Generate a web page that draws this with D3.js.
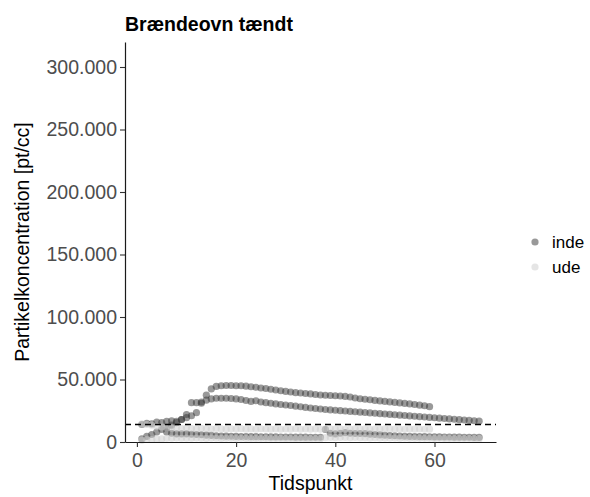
<!DOCTYPE html>
<html>
<head>
<meta charset="utf-8">
<script src="https://cdn.jsdelivr.net/npm/d3@7"></script>
<style>
  body { margin: 0; background: #fff; }
  svg { display: block; font-family: "Liberation Sans", Arial, sans-serif; }
</style>
</head>
<body>
<svg id="chart" width="590" height="497"></svg>
<script>
// ---- data ----
const title = "Brændeovn tændt";
const xTitle = "Tidspunkt";
const yTitle = "Partikelkoncentration [pt/cc]";
const groups = ["inde", "ude"];
const xTicks = [0, 20, 40, 60];
const yTicks = [0, 50000, 100000, 150000, 200000, 250000, 300000];
const refLine = 14000;

// inde, measurement 1 (t = 1..59)
const inde1 = [14000, 15000, 14500, 16000, 15500, 16500, 17000, 16500, 18000, 19500,
  21000, 23500, 31000, 37500, 42500, 44500, 45000, 45200, 45200, 45000,
  45000, 44700, 44200, 43800, 43200, 42800, 42200, 41600, 41000, 40500,
  40000, 39500, 39200, 38800, 38500, 38000, 37600, 37400, 37200, 37000,
  36800, 36500, 36000, 35200, 34600, 34200, 33800, 33300, 32900, 32500,
  32100, 31700, 31300, 30900, 30500, 30000, 29500, 29000, 28300];
// inde, measurement 2 (t = 1..69)
const inde2 = [2500, 4500, 6000, 8000, 10000, 11500, 13500, 15500, 18000, 22000,
  31500, 31500, 32000, 33500, 34500, 35000, 35000, 35000, 34800, 34500,
  34000, 33200, 32500, 33000, 32000, 31500, 31000, 30500, 30000, 29600,
  29200, 28700, 28200, 27700, 27200, 26800, 26400, 26000, 25700, 25400,
  25100, 24800, 24500, 24200, 23900, 23600, 23300, 23000, 22700, 22400,
  22100, 21800, 21500, 21200, 20900, 20600, 20300, 20000, 19700, 19400,
  19100, 18800, 18500, 18200, 17900, 17600, 17300, 17000, 16700];
// inde, measurement 3 (t = 1..69)
const inde3 = [null, null, null, null, null, 8000, 7000, 6500, 6500, 6500,
  6200, 6000, 5800, 5500, 5300, 5000, 4800, 4700, 4600, 4500,
  4400, 4400, 4300, 4300, 4200, 4200, 4100, 4100, 4000, 4000,
  4000, 3900, 3900, 3900, 3800, 3800, 3800, 10000, 7000, 6500,
  7000, 7500, 7000, 6800, 6800, 6700, 6300, 6000, 5700, 5400,
  5200, 5000, 4800, 4600, 4500, 4400, 4300, 4300, 4200, 4100,
  4100, 4000, 4000, 3900, 3900, 3800, 3800, 3700, 3700];
// ude, measurement 1 (t = 1..59)
const ude1 = [14500, 14000, 13500, 12500, 12000, 11500, 11000, 11000, 10800, 11200,
  10800, 10500, 11000, 10600, 10400, 10800, 10500, 10300, 10600, 10400,
  10700, 10300, 10500, 10200, 10600, 10400, 10300, 10500, 10200, 10400,
  10300, 10600, 10200, 10400, 10300, 10500, 10200, 10400, 10600, 10300,
  10500, 10200, 10400, 10600, 10300, 10500, 10200, 10400, 10300, 10500,
  10600, 10300, 10400, 10200, 10500, 10300, 10400, 10200, 10300];
// ude, measurement 2 (t = 1..69)
const ude2 = [1500, 2000, 2000, 2500, 2500, 3000, 3000, 3200, 3000, 3100,
  3000, 3200, 3000, 2900, 3100, 3000, 2900, 3000, 3100, 2900,
  3000, 2900, 2800, 2900, 2800, 2900, 2800, 2800, 2900, 2700,
  2800, 2700, 2800, 2700, 2700, 2800, 2700, 3500, 3600, 3500,
  3700, 3600, 3500, 3600, 3400, 3500, 3300, 3400, 3300, 3200,
  3300, 3200, 3100, 3200, 3100, 3000, 3100, 3000, 3000, 2900,
  3000, 2900, 2900, 2800, 2900, 2800, 2800, 2700, 2700];

const seriesList = [
  {group: "inde", values: inde1},
  {group: "inde", values: inde2},
  {group: "inde", values: inde3},
  {group: "ude", values: ude1},
  {group: "ude", values: ude2}
];

// ---- styles ----
const fillColor = {inde: "#333333", ude: "#cccccc"};
const pointAlpha = 0.5;
const r = 3.6;

const svg = d3.select("#chart");
const pLeft = 125, pRight = 496, pTop = 42, pBottom = 442;

const x = d3.scaleLinear().domain([-2.4, 72.4]).range([pLeft, pRight]);
const y = d3.scaleLinear().domain([0, 320000]).range([pBottom, pTop]);

const locale = d3.formatLocale({decimal: ",", thousands: ".", grouping: [3], currency: ["", ""]});
const fmt = locale.format(",");

// points
const pts = [];
seriesList.forEach(s => s.values.forEach((v, i) => {
  if (v !== null) pts.push({t: i + 1, v: v, g: s.group});
}));

svg.append("g").selectAll("circle").data(pts).join("circle")
  .attr("cx", d => x(d.t))
  .attr("cy", d => y(d.v))
  .attr("r", r)
  .attr("fill", d => fillColor[d.g])
  .attr("fill-opacity", pointAlpha);

// reference dashed line
svg.append("line")
  .attr("x1", pLeft).attr("x2", pRight)
  .attr("y1", y(refLine)).attr("y2", y(refLine))
  .attr("stroke", "#000").attr("stroke-width", 1.3)
  .attr("stroke-dasharray", "6,4");

// axes
const yAxis = svg.append("g").attr("transform", `translate(${pLeft},0)`)
  .call(d3.axisLeft(y).tickValues(yTicks).tickFormat(fmt).tickSize(5).tickSizeOuter(0).tickPadding(3));
const xAxis = svg.append("g").attr("transform", `translate(0,${pBottom})`)
  .call(d3.axisBottom(x).tickValues(xTicks).tickSize(5).tickSizeOuter(0).tickPadding(6));

[yAxis, xAxis].forEach(a => {
  a.select(".domain").attr("stroke", "#1a1a1a").attr("stroke-width", 1.2);
  a.selectAll(".tick line").attr("stroke", "#333").attr("stroke-width", 1.1);
  a.selectAll(".tick text").attr("fill", "#4d4d4d")
    .style("font-size", "19.5px").style("font-family", "'Liberation Sans', Arial, sans-serif");
});

// titles
svg.append("text").attr("x", pLeft).attr("y", 31)
  .attr("font-weight", "bold").attr("font-size", 19.5).attr("fill", "#000")
  .text(title);

svg.append("text").attr("x", (pLeft + pRight) / 2).attr("y", 490)
  .attr("text-anchor", "middle").attr("font-size", 19.5).attr("fill", "#000")
  .text(xTitle);

svg.append("text")
  .attr("transform", `translate(29,${(pTop + pBottom) / 2}) rotate(-90)`)
  .attr("text-anchor", "middle").attr("font-size", 19.5).attr("fill", "#000")
  .text(yTitle);

// legend
const leg = svg.append("g");
groups.forEach((g, i) => {
  const cy = 242 + i * 25;
  leg.append("circle").attr("cx", 535).attr("cy", cy).attr("r", r)
    .attr("fill", fillColor[g]).attr("fill-opacity", pointAlpha);
  leg.append("text").attr("x", 552).attr("y", cy).attr("dy", "0.35em")
    .attr("font-size", 17).attr("fill", "#000").text(g);
});
</script>
</body>
</html>
